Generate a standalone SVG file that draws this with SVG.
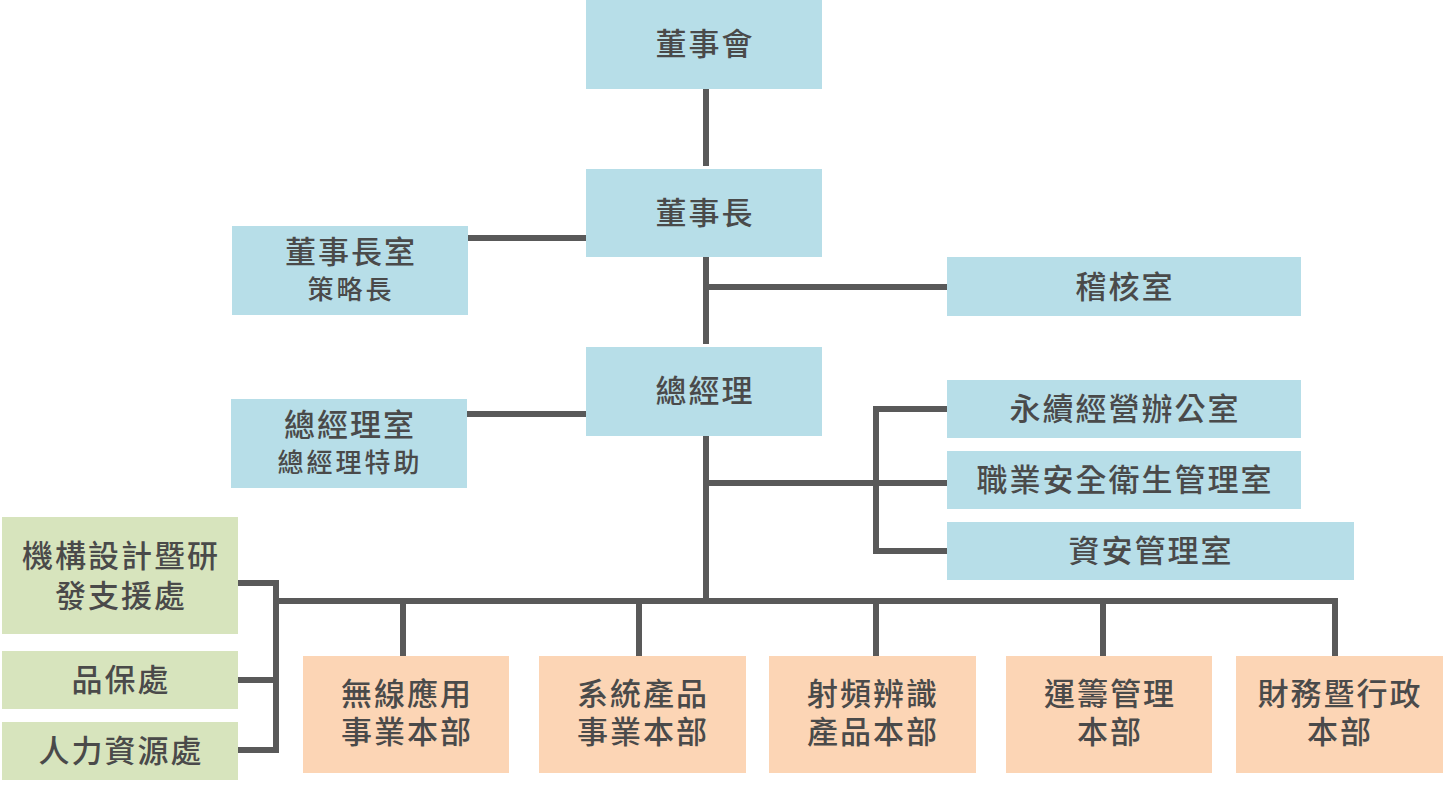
<svg xmlns="http://www.w3.org/2000/svg" width="1443" height="791" viewBox="0 0 1443 791">
<style>
.b{fill:#b7dee8}
.g{fill:#d7e4bd}
.o{fill:#fcd5b5}
text{font-family:"Noto Sans CJK TC","Noto Sans CJK SC",sans-serif;fill:#4a4a4a;font-weight:500;text-anchor:middle;dominant-baseline:central}
.t{font-size:31px;letter-spacing:2px}
.s{font-size:26px;letter-spacing:3px}
.c{stroke:#595959;stroke-width:6;fill:none}
</style>
<rect width="1443" height="791" fill="#ffffff"/>
<g id="connectors" class="c">
<path d="M706 89V166"/>
<path d="M706 257V344"/>
<path d="M706 287H947"/>
<path d="M468 238H586"/>
<path d="M467 414H586"/>
<path d="M706 436V601"/>
<path d="M706 483H947"/>
<path d="M947 409H876V551H947"/>
<path d="M276 601H1335V656"/>
<path d="M403 601V656M639 601V656M876 601V656M1103 601V656"/>
<path d="M238 583H276V750H238M238 680H276"/>
</g>
<g id="board"><rect class="b" x="586" y="0" width="236" height="89"/><text class="t" x="705" y="41">董事會</text></g>
<g id="chairman"><rect class="b" x="586" y="169" width="236" height="88"/><text class="t" x="705" y="210">董事長</text></g>
<g id="chairman-office"><rect class="b" x="232" y="226" width="236" height="89"/><text class="t" x="351" y="249">董事長室<tspan class="s" x="351" y="287">策略長</tspan></text></g>
<g id="audit"><rect class="b" x="947" y="257" width="354" height="59"/><text class="t" x="1125" y="284">稽核室</text></g>
<g id="gm"><rect class="b" x="586" y="347" width="236" height="89"/><text class="t" x="705" y="388">總經理</text></g>
<g id="gm-office"><rect class="b" x="231" y="399" width="236" height="89"/><text class="t" x="350" y="422">總經理室<tspan class="s" x="350" y="460">總經理特助</tspan></text></g>
<g id="esg"><rect class="b" x="947" y="380" width="354" height="58"/><text class="t" x="1125" y="406">永續經營辦公室</text></g>
<g id="safety"><rect class="b" x="947" y="451" width="354" height="58"/><text class="t" x="1125" y="477">職業安全衛生管理室</text></g>
<g id="infosec"><rect class="b" x="947" y="522" width="407" height="58"/><text class="t" x="1151" y="548">資安管理室</text></g>
<g id="mech"><rect class="g" x="2" y="517" width="236" height="117"/><text class="t" x="121" y="553">機構設計暨研<tspan x="121" y="593">發支援處</tspan></text></g>
<g id="qa"><rect class="g" x="2" y="651" width="236" height="58"/><text class="t" x="121" y="677">品保處</text></g>
<g id="hr"><rect class="g" x="2" y="722" width="236" height="58"/><text class="t" x="121" y="748">人力資源處</text></g>
<g id="wireless"><rect class="o" x="303" y="656" width="206" height="117"/><text class="t" x="407" y="691">無線應用<tspan x="407" y="729">事業本部</tspan></text></g>
<g id="system"><rect class="o" x="539" y="656" width="207" height="117"/><text class="t" x="643" y="691">系統產品<tspan x="643" y="729">事業本部</tspan></text></g>
<g id="rfid"><rect class="o" x="769" y="656" width="207" height="117"/><text class="t" x="873" y="691">射頻辨識<tspan x="873" y="729">產品本部</tspan></text></g>
<g id="ops"><rect class="o" x="1006" y="656" width="206" height="117"/><text class="t" x="1110" y="691">運籌管理<tspan x="1110" y="729">本部</tspan></text></g>
<g id="finance"><rect class="o" x="1236" y="656" width="207" height="117"/><text class="t" x="1340" y="691">財務暨行政<tspan x="1340" y="729">本部</tspan></text></g>
</svg>
